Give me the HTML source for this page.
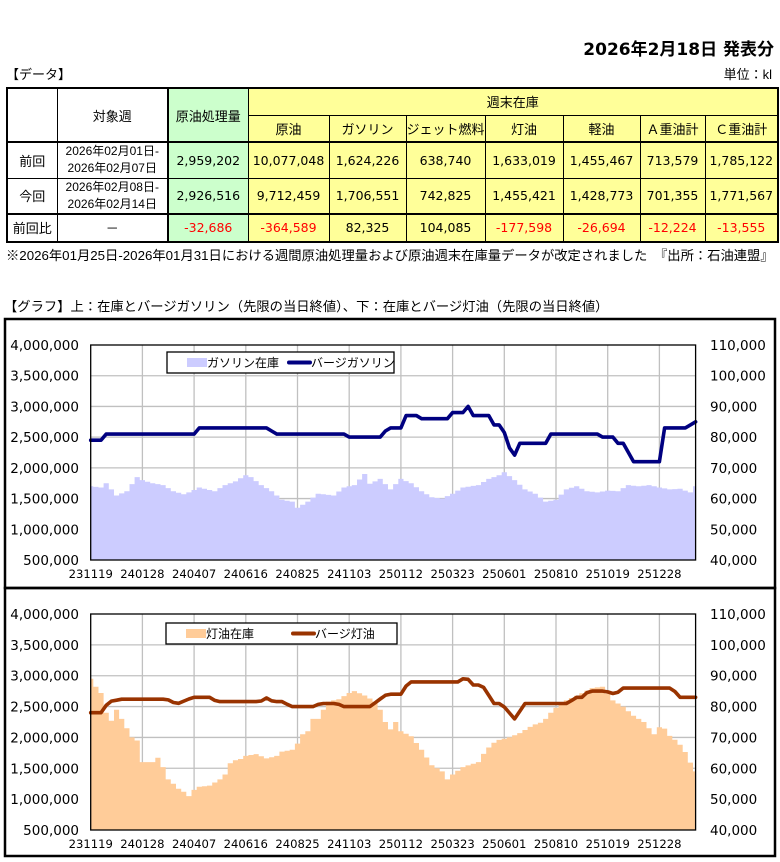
<!DOCTYPE html>
<html><head><meta charset="utf-8">
<style>
body{margin:0;background:#fff;width:780px;height:862px;position:relative;overflow:hidden;font-family:"Liberation Sans","Noto Sans CJK JP",sans-serif;color:#000}
.a{position:absolute;white-space:nowrap}
table{position:absolute;left:6px;top:87px;border-collapse:collapse;table-layout:fixed;font-size:13px}
td{border:1px solid #000;text-align:center;padding:0;overflow:hidden;white-space:nowrap}
.n{font-family:"DejaVu Sans",sans-serif;font-size:12.5px}
.g{background:#ccffcc}.y{background:#ffff99}.r{color:#ff0000}
.sm{font-size:12px;line-height:17px}
</style></head><body>
<div class="a" style="right:6px;top:35px;font-size:17px;font-weight:bold;font-family:'DejaVu Sans','Noto Sans CJK JP',sans-serif">2026年2月18日 発表分</div>
<div class="a" style="left:6px;top:64px;font-size:13px">【データ】</div>
<div class="a" style="right:8px;top:64px;font-size:13px">単位：kl</div>
<table>
<colgroup><col style="width:50px"><col style="width:111px"><col style="width:80px"><col style="width:81px"><col style="width:77px"><col style="width:74px"><col style="width:78px"><col style="width:77px"><col style="width:65px"><col style="width:73px"></colgroup>
<tr style="height:27px"><td rowspan="2" style="border-top:2px solid #000;border-left:2px solid #000;border-bottom:2px solid #000"></td><td rowspan="2" style="border-top:2px solid #000;border-bottom:2px solid #000;border-right:2px solid #000">対象週</td><td rowspan="2" class="g" style="border-top:2px solid #000;border-bottom:2px solid #000">原油処理量</td><td colspan="7" class="y" style="border-top:2px solid #000;border-right:2px solid #000">週末在庫</td></tr>
<tr style="height:27px"><td class="y" style="border-bottom:2px solid #000">原油</td><td class="y" style="border-bottom:2px solid #000">ガソリン</td><td class="y" style="border-bottom:2px solid #000">ジェット燃料</td><td class="y" style="border-bottom:2px solid #000">灯油</td><td class="y" style="border-bottom:2px solid #000">軽油</td><td class="y" style="border-bottom:2px solid #000">Ａ重油計</td><td class="y" style="border-bottom:2px solid #000;border-right:2px solid #000">Ｃ重油計</td></tr>
<tr style="height:36px"><td style="border-left:2px solid #000">前回</td><td class="sm" style="border-right:2px solid #000">2026年02月01日-<br>2026年02月07日</td><td class="g n">2,959,202</td><td class="y n">10,077,048</td><td class="y n">1,624,226</td><td class="y n">638,740</td><td class="y n">1,633,019</td><td class="y n">1,455,467</td><td class="y n">713,579</td><td class="y n" style="border-right:2px solid #000">1,785,122</td></tr>
<tr style="height:35px"><td style="border-left:2px solid #000">今回</td><td class="sm" style="border-right:2px solid #000">2026年02月08日-<br>2026年02月14日</td><td class="g n">2,926,516</td><td class="y n">9,712,459</td><td class="y n">1,706,551</td><td class="y n">742,825</td><td class="y n">1,455,421</td><td class="y n">1,428,773</td><td class="y n">701,355</td><td class="y n" style="border-right:2px solid #000">1,771,567</td></tr>
<tr style="height:28px"><td style="border:2px solid #000;border-right:1px solid #000">前回比</td><td style="border-top:2px solid #000;border-bottom:2px solid #000;border-right:2px solid #000">－</td><td class="g n r" style="border-top:2px solid #000;border-bottom:2px solid #000">-32,686</td><td class="y n r" style="border-top:2px solid #000;border-bottom:2px solid #000">-364,589</td><td class="y n" style="border-top:2px solid #000;border-bottom:2px solid #000">82,325</td><td class="y n" style="border-top:2px solid #000;border-bottom:2px solid #000">104,085</td><td class="y n r" style="border-top:2px solid #000;border-bottom:2px solid #000">-177,598</td><td class="y n r" style="border-top:2px solid #000;border-bottom:2px solid #000">-26,694</td><td class="y n r" style="border-top:2px solid #000;border-bottom:2px solid #000">-12,224</td><td class="y n r" style="border:2px solid #000;border-left:1px solid #000">-13,555</td></tr>
</table>
<div class="a" style="left:6px;top:245px;font-size:13.3px">※2026年01月25日-2026年01月31日における週間原油処理量および原油週末在庫量データが改定されました　『出所：石油連盟』</div>
<div class="a" style="left:4px;top:296px;font-size:13.3px">【グラフ】上：在庫とバージガソリン（先限の当日終値）、下：在庫とバージ灯油（先限の当日終値）</div>
<svg id="s" class="a" style="left:0;top:0" width="780" height="862"></svg>
<script>
var S=document.getElementById('s'),h='';
var X0=90.7,DX=5.17,XR=695.6,N=118;
function interp(k){var a=[];for(var i=0;i<N;i++){var j=0;while(j<k.length-2&&k[j+1][0]<=i)j++;var p=k[j],q=k[j+1];var t=(i-p[0])/(q[0]-p[0]);if(t<0)t=0;if(t>1)t=1;a.push(p[1]+(q[1]-p[1])*t);}return a;}
function chart(top,bot,stock,barge,fill,lc,leg,lx,ly,lw,tx,lnx){
 var step=(bot-top)/7;
 for(var i=1;i<=11;i++){var x=X0+i*10*DX;h+='<line x1="'+x+'" y1="'+top+'" x2="'+x+'" y2="'+bot+'" stroke="#c0c0c0" stroke-width="1.3"/>';}
 for(var i=1;i<7;i++){var y=top+i*step;h+='<line x1="'+X0+'" y1="'+y+'" x2="'+XR+'" y2="'+y+'" stroke="#c0c0c0" stroke-width="1.3"/>';}
 var s=interp(stock),d='M'+X0+' '+bot;
 for(var i=0;i<N;i++){var x1=Math.max(X0,X0+(i-0.5)*DX),x2=Math.min(XR,X0+(i+0.5)*DX),y=bot-(s[i]-0.5)/3.5*(bot-top);d+=' L'+x1.toFixed(1)+' '+y.toFixed(1)+' L'+x2.toFixed(1)+' '+y.toFixed(1);}
 d+=' L'+XR+' '+bot+'Z';h+='<path d="'+d+'" fill="'+fill+'"/>';
 var b=interp(barge),p='';
 for(var i=0;i<N;i++){p+=(X0+i*DX).toFixed(1)+','+(bot-(b[i]-40)/70*(bot-top)).toFixed(1)+' ';}
 h+='<polyline points="'+p+'" fill="none" stroke="'+lc+'" stroke-width="3.6" stroke-linejoin="round" stroke-linecap="round"/>';
 h+='<rect x="'+X0+'" y="'+top+'" width="'+(XR-X0)+'" height="'+(bot-top)+'" fill="none" stroke="#000" stroke-width="1.3"/>';
 var L=['4,000,000','3,500,000','3,000,000','2,500,000','2,000,000','1,500,000','1,000,000','500,000'],R=['110,000','100,000','90,000','80,000','70,000','60,000','50,000','40,000'];
 for(var i=0;i<8;i++){var y=top+i*step+5;h+='<text x="79" y="'+y+'" text-anchor="end" font-size="13.5">'+L[i]+'</text><text x="710" y="'+y+'" font-size="13.5">'+R[i]+'</text>';}
 var D=['231119','240128','240407','240616','240825','241103','250112','250323','250601','250810','251019','251228'];
 for(var i=0;i<12;i++)h+='<text x="'+(X0+i*10*DX)+'" y="'+(bot+18)+'" text-anchor="middle" font-size="11.6">'+D[i]+'</text>';
 h+='<rect x="'+lx+'" y="'+ly+'" width="'+lw+'" height="21" fill="#fff" stroke="#000" stroke-width="1.3"/>';
 h+='<rect x="'+(lx+20)+'" y="'+(ly+6)+'" width="20" height="9" fill="'+fill+'"/>';
 h+='<text x="'+(lx+40)+'" y="'+(ly+15)+'" style="font-family:Liberation Sans,Noto Sans CJK JP,sans-serif;font-size:12px">'+leg[0]+'</text>';
 h+='<line x1="'+lnx+'" y1="'+(ly+10.5)+'" x2="'+(lnx+21)+'" y2="'+(ly+10.5)+'" stroke="'+lc+'" stroke-width="4" stroke-linecap="round"/>';
 h+='<text x="'+tx+'" y="'+(ly+15)+'" style="font-family:Liberation Sans,Noto Sans CJK JP,sans-serif;font-size:12px">'+leg[1]+'</text>';
}
h+='<g font-family="DejaVu Sans,sans-serif" fill="#000">';
chart(345,560,
[[0,1.70],[2,1.68],[3,1.75],[5,1.55],[7,1.62],[9,1.85],[10,1.80],[12,1.75],[14,1.72],[16,1.62],[18,1.57],[19,1.6],[21,1.68],[24,1.62],[26,1.72],[28,1.78],[30,1.88],[31,1.85],[33,1.72],[35,1.62],[37,1.48],[39,1.45],[40,1.35],[42,1.45],[44,1.58],[47,1.55],[49,1.68],[51,1.72],[53,1.90],[54,1.74],[56,1.82],[58,1.65],[60,1.82],[62,1.75],[64,1.62],[66,1.52],[68,1.50],[70,1.58],[72,1.68],[75,1.72],[77,1.82],[79,1.88],[80,1.93],[82,1.80],[84,1.65],[86,1.58],[88,1.45],[90,1.48],[92,1.65],[94,1.70],[96,1.62],[98,1.60],[100,1.63],[102,1.62],[104,1.72],[106,1.70],[108,1.72],[110,1.68],[112,1.65],[114,1.66],[116,1.60],[117,1.70]],
[[0,79],[2,79],[3,81],[20,81],[21,83],[34,83],[36,81],[49,81],[50,80],[56,80],[57.5,83],[60,83],[61,87],[63,87],[64,86],[69,86],[70,88],[72,88],[73,90],[74,87],[77,87],[78,84],[79.5,84],[81.7,73],[83,78],[88,78],[89,81],[98,81],[99,80],[101,80],[102,78],[103,78],[105,72],[110,72],[111,83],[115,83],[117,85]],
'#ccccff','#000080',['ガソリン在庫','バージガソリン'],167,352,227,311,289);
chart(614,830,
[[0,2.95],[1,2.82],[2,2.72],[3,2.4],[4,2.27],[5,2.45],[6,2.3],[7,2.15],[8,2.0],[9,1.95],[10,1.6],[12,1.6],[13,1.67],[14,1.52],[15,1.32],[16,1.25],[17,1.17],[18,1.12],[19,1.05],[20,1.15],[21,1.2],[23,1.22],[24,1.27],[25,1.32],[26,1.4],[27,1.58],[28,1.63],[29,1.65],[30,1.7],[32,1.73],[34,1.66],[36,1.7],[37,1.77],[39,1.8],[40,1.9],[41,2.05],[42,2.1],[43,2.3],[44,2.3],[45,2.45],[46,2.58],[48,2.62],[50,2.72],[51,2.75],[53,2.68],[55,2.58],[56,2.45],[57,2.25],[58,2.13],[59,2.25],[60,2.1],[62,2.02],[64,1.8],[66,1.55],[68,1.45],[69,1.32],[70,1.4],[72,1.52],[75,1.6],[76.5,1.8],[78.5,1.95],[81,2.0],[83,2.07],[85.6,2.2],[87.5,2.25],[89.5,2.45],[92,2.6],[94.6,2.7],[97,2.8],[99,2.82],[101,2.6],[103,2.5],[105,2.35],[107,2.25],[109,2.05],[110.5,2.22],[111.6,2.05],[113.5,1.93],[114.8,1.8],[115.8,1.62],[117,1.45]],
[[0,78],[2,78],[3.5,81.6],[6,82.4],[14.7,82.4],[16.6,80.8],[19.8,83],[23,83],[24.4,81.6],[32.8,81.6],[34,82.8],[35.3,81.6],[37.3,81.6],[38.6,80],[43,80],[44.4,81],[47.6,81],[49,80],[54,80],[55.3,81.6],[57.3,84],[60,84],[61.5,88],[71.5,88],[72.5,90],[73.8,87],[75.7,87],[78,81],[79.4,81],[82,76],[84,81],[92.4,81],[93.7,83],[95,83],[96.3,85],[99.5,85],[101.5,84],[103,86],[112.4,86],[114,83],[117,83]],
'#ffcc99','#993300',['灯油在庫','バージ灯油'],166,623,231,315,293);
h+='</g>';
h+='<rect x="5" y="319" width="770" height="269" fill="none" stroke="#000" stroke-width="2.5"/>';
h+='<rect x="5" y="588" width="770" height="268" fill="none" stroke="#000" stroke-width="2.5"/>';
S.innerHTML=h;
</script>
</body></html>
